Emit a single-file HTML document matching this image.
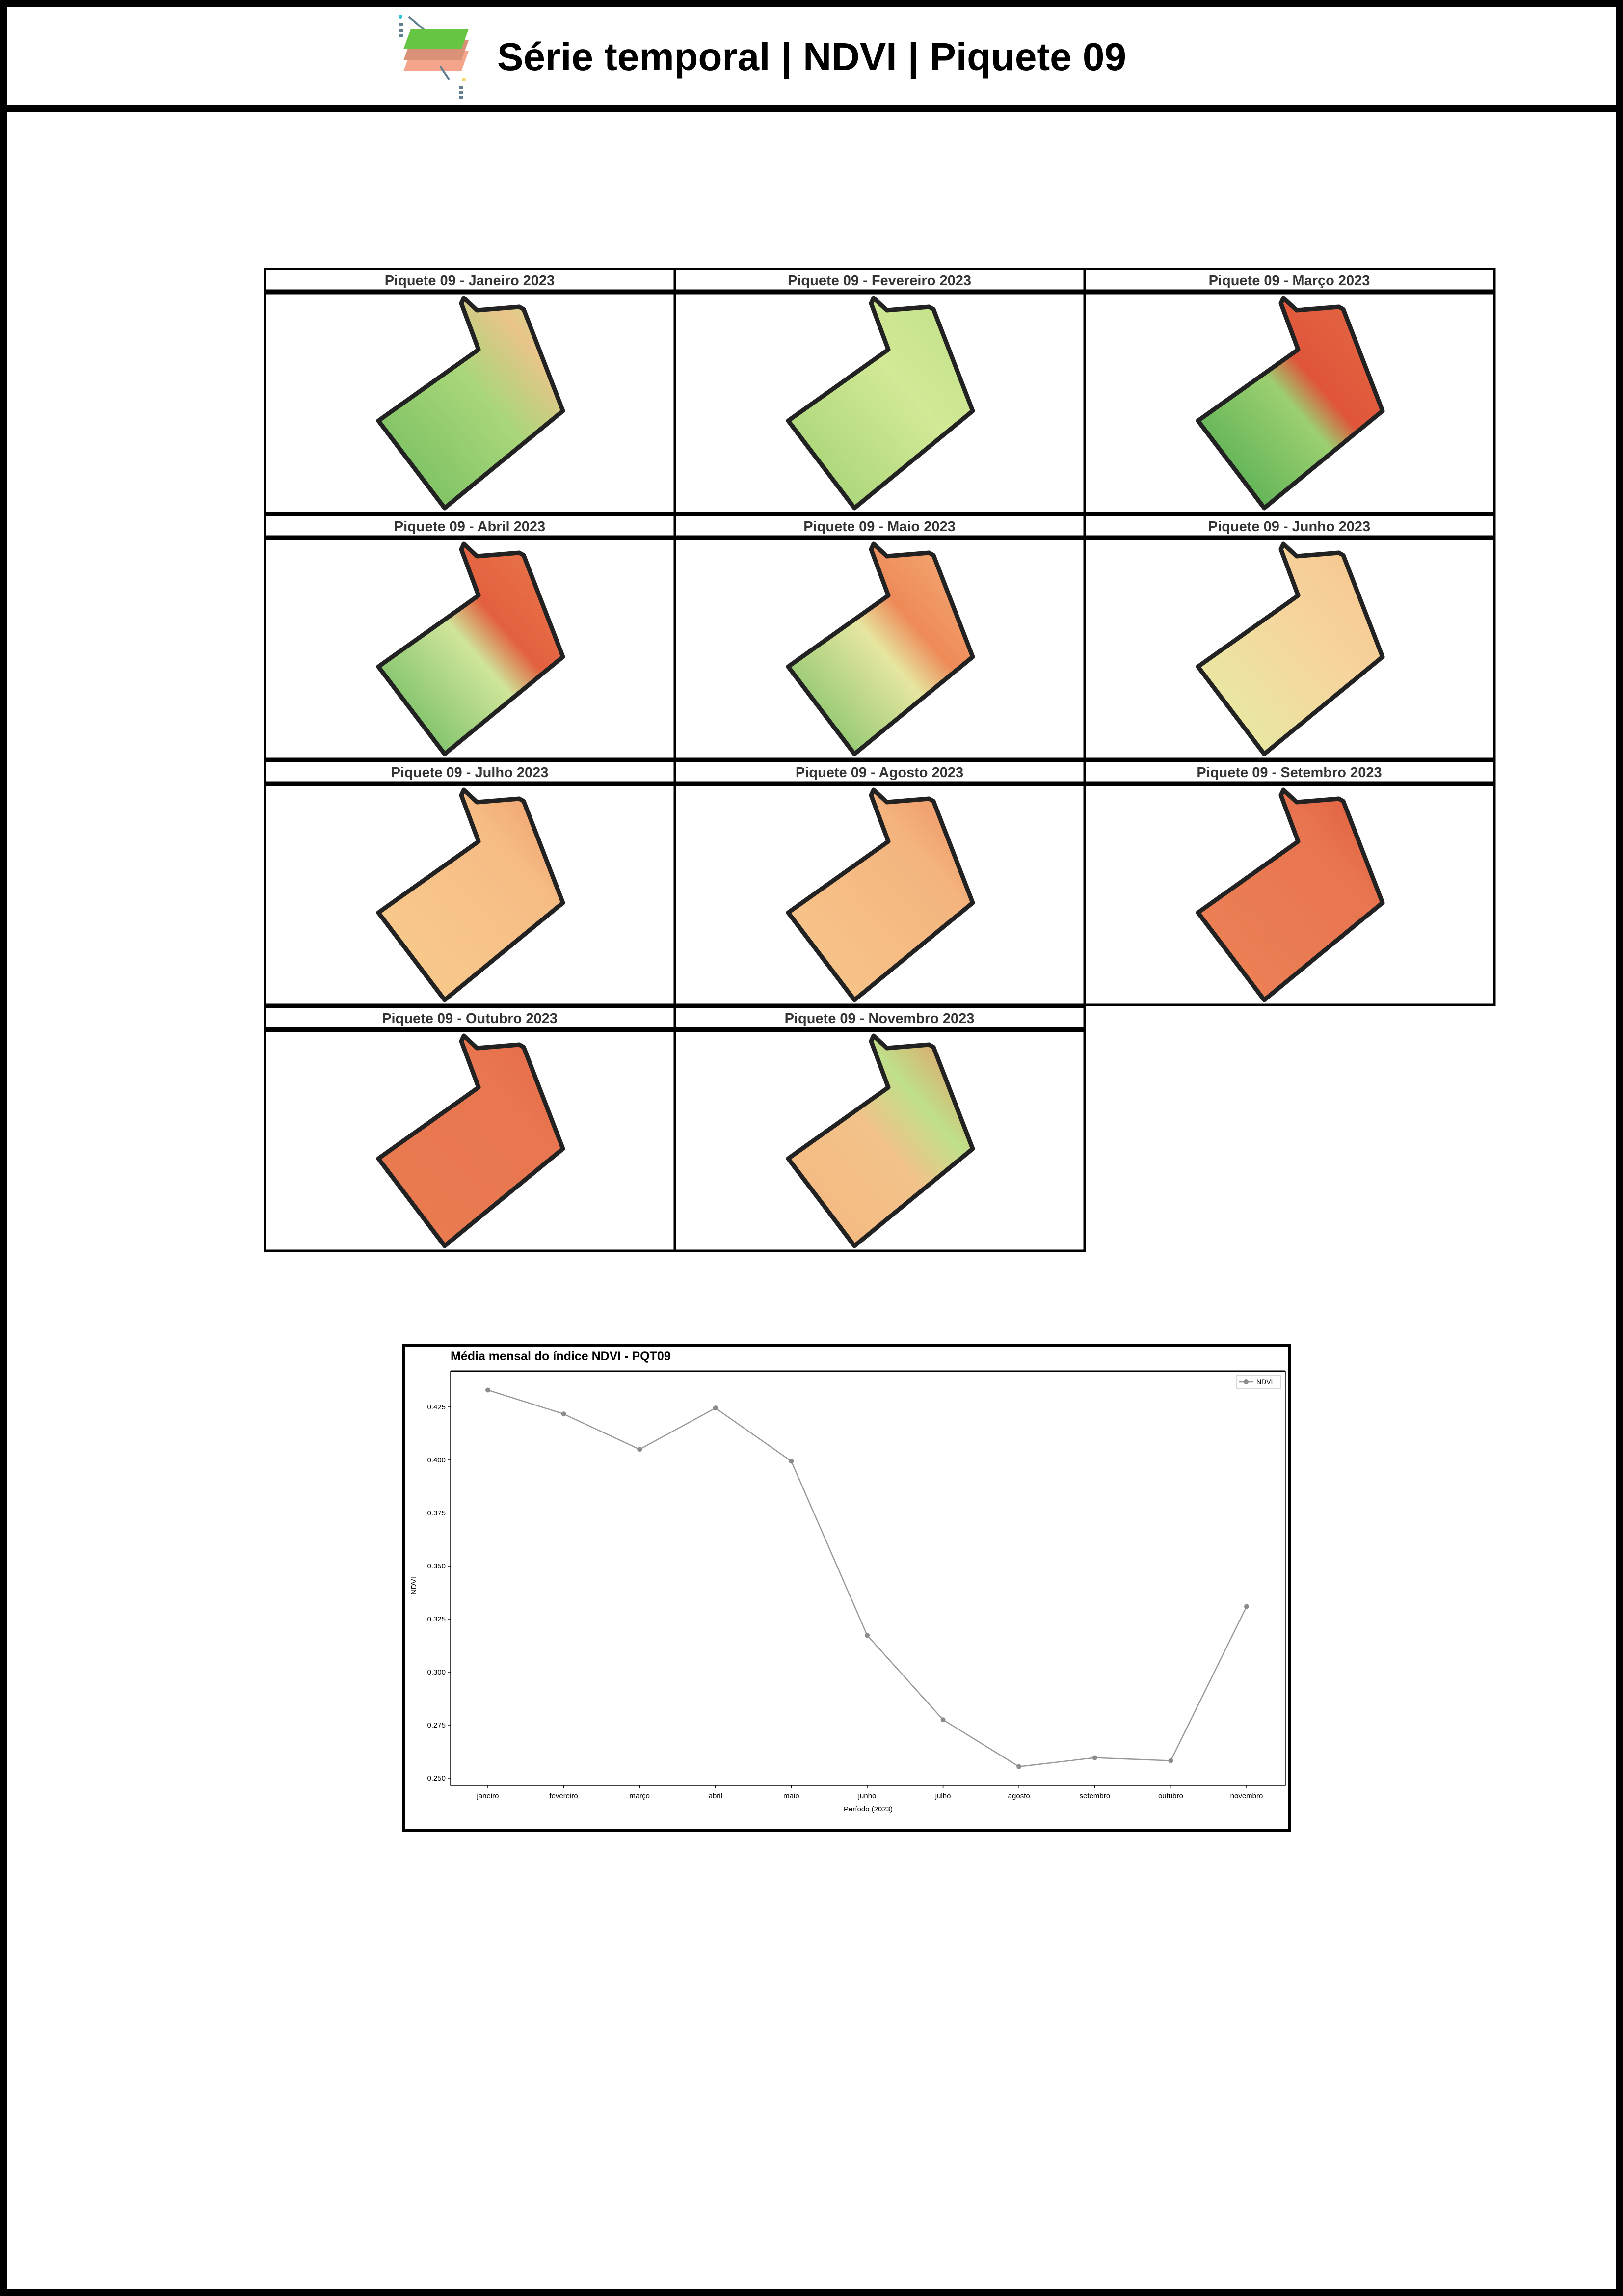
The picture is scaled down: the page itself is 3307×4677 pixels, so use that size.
<!DOCTYPE html>
<html><head><meta charset="utf-8"><style>
html,body{margin:0;padding:0;background:#fff}
svg{display:block}
text{font-family:"Liberation Sans",sans-serif}
</style></head><body>
<svg id="page" width="3307" height="4677" viewBox="0 0 3307 4677" xmlns="http://www.w3.org/2000/svg">
<defs>
<linearGradient id="g0" x1="0" y1="1" x2="1" y2="0"><stop offset="0" stop-color="#6dbb5c"/><stop offset="0.55" stop-color="#a9d67a"/><stop offset="0.8" stop-color="#e9c48a"/><stop offset="1" stop-color="#c8e38e"/></linearGradient>
<linearGradient id="g1" x1="0" y1="1" x2="1" y2="0"><stop offset="0" stop-color="#9fd070"/><stop offset="0.6" stop-color="#d2e996"/><stop offset="1" stop-color="#c0df86"/></linearGradient>
<linearGradient id="g2" x1="0" y1="1" x2="1" y2="0"><stop offset="0" stop-color="#45a84c"/><stop offset="0.5" stop-color="#9ccf70"/><stop offset="0.62" stop-color="#e0553a"/><stop offset="1" stop-color="#e46a44"/></linearGradient>
<linearGradient id="g3" x1="0" y1="1" x2="1" y2="0"><stop offset="0" stop-color="#5cb355"/><stop offset="0.5" stop-color="#cfe59a"/><stop offset="0.64" stop-color="#e3603e"/><stop offset="1" stop-color="#ea7a4e"/></linearGradient>
<linearGradient id="g4" x1="0" y1="1" x2="1" y2="0"><stop offset="0" stop-color="#6dbb5c"/><stop offset="0.5" stop-color="#e6e6a0"/><stop offset="0.65" stop-color="#ee8a58"/><stop offset="1" stop-color="#f4b07a"/></linearGradient>
<linearGradient id="g5" x1="0" y1="1" x2="1" y2="0"><stop offset="0" stop-color="#e3efa4"/><stop offset="0.6" stop-color="#f7d49c"/><stop offset="1" stop-color="#f4c48c"/></linearGradient>
<linearGradient id="g6" x1="0" y1="1" x2="1" y2="0"><stop offset="0" stop-color="#f9cd8e"/><stop offset="0.7" stop-color="#f6bc84"/><stop offset="1" stop-color="#ee9a68"/></linearGradient>
<linearGradient id="g7" x1="0" y1="1" x2="1" y2="0"><stop offset="0" stop-color="#f8c88c"/><stop offset="0.7" stop-color="#f4b47e"/><stop offset="1" stop-color="#eb8c60"/></linearGradient>
<linearGradient id="g8" x1="0" y1="1" x2="1" y2="0"><stop offset="0" stop-color="#ed8356"/><stop offset="0.7" stop-color="#e87550"/><stop offset="1" stop-color="#e05a3c"/></linearGradient>
<linearGradient id="g9" x1="0" y1="1" x2="1" y2="0"><stop offset="0" stop-color="#ea7c50"/><stop offset="0.7" stop-color="#e87650"/><stop offset="1" stop-color="#e46a46"/></linearGradient>
<linearGradient id="g10" x1="0" y1="1" x2="1" y2="0"><stop offset="0" stop-color="#f6b87e"/><stop offset="0.5" stop-color="#f2c28a"/><stop offset="0.7" stop-color="#bfe08a"/><stop offset="1" stop-color="#ec8a5c"/></linearGradient>
</defs>
<!-- outer frame -->
<rect x="7" y="7" width="3293" height="4663" fill="none" stroke="#000" stroke-width="15"/>
<rect x="0" y="213" width="3307" height="15" fill="#000"/>
<!-- logo -->
<g>
<line x1="833" y1="34" x2="875" y2="70" stroke="#5f7f8e" stroke-width="4"/>
<circle cx="816" cy="34" r="4" fill="#2bc6d8"/>
<rect x="814" y="47" width="8" height="6" fill="#5f7f8e"/><rect x="814" y="60" width="8" height="6" fill="#5f7f8e"/><rect x="814" y="70" width="8" height="6" fill="#5f7f8e"/>
<polygon points="822,145 940,145 955,104 837,104" fill="#f5a48c"/>
<polygon points="822,123 940,123 955,82 837,82" fill="#d99278"/>
<polygon points="822,100 940,100 955,59 837,59" fill="#66c644"/>
<line x1="897" y1="135" x2="915" y2="162" stroke="#5f7f8e" stroke-width="4"/>
<circle cx="945" cy="162" r="4" fill="#f3d86a"/>
<rect x="935" y="175" width="9" height="6" fill="#5f7f8e"/><rect x="935" y="186" width="9" height="6" fill="#5f7f8e"/><rect x="935" y="196" width="9" height="6" fill="#5f7f8e"/>
</g>
<text x="1013" y="143" font-size="80" font-weight="bold" fill="#000" textLength="1282" lengthAdjust="spacingAndGlyphs">Série temporal | NDVI | Piquete 09</text>
<g id="panels"></g>
<!-- chart -->
<rect x="823" y="2740" width="1805" height="988" fill="#fff" stroke="#000" stroke-width="6"/>
<g id="chart"></g>
</svg>
<script>
// ---- chart data ----
const months = ["janeiro","fevereiro","março","abril","maio","junho","julho","agosto","setembro","outubro","novembro"];
const ndvi = [0.433,0.4217,0.405,0.4245,0.3994,0.3173,0.2775,0.2554,0.2596,0.2582,0.3309];
const yTicks = [0.250,0.275,0.300,0.325,0.350,0.375,0.400,0.425];
const yTickLabels = ["0.250","0.275","0.300","0.325","0.350","0.375","0.400","0.425"];
// ---- panel data ----
const panelTitles = ["Janeiro 2023","Fevereiro 2023","Março 2023","Abril 2023","Maio 2023","Junho 2023","Julho 2023","Agosto 2023","Setembro 2023","Outubro 2023","Novembro 2023"];

const NS = "http://www.w3.org/2000/svg";
function mk(tag, attrs, parent){const e=document.createElementNS(NS,tag);for(const k in attrs)e.setAttribute(k,attrs[k]);parent.appendChild(e);return e;}

// panels
const pg = document.getElementById('panels');
const shape = [[405,10],[432,35],[518,28],[527,33],[607,240],[366,438],[231,260],[435,115],[400,21]];
panelTitles.forEach((t,i)=>{
  const col=i%3,row=Math.floor(i/3);
  const x=540+col*835,y=548+row*501;
  const g=mk('g',{},pg);
  
  
  const tb=mk('rect',{x:x,y:y,width:835,height:44,fill:'#fff',stroke:'#000','stroke-width':5},g);
  
  
  const tt=mk('text',{x:x+417,y:y+33,'font-size':29,'font-weight':'bold','text-anchor':'middle',fill:'#333'},g);
  tt.textContent='Piquete 09 -  '+t;
  
  
  const mb=mk('rect',{x:x,y:y+49,width:835,height:448,fill:'#fff',stroke:'#000','stroke-width':5},g);
  
  
  const pts=shape.map(p=>(x+p[0])+','+(y+49+p[1])).join(' ');
  const pl=mk('polygon',{points:pts,fill:'url(#g'+i+')',stroke:'#222','stroke-width':9,'stroke-linejoin':'round'},g);
  
  
});

// chart
const cg=document.getElementById('chart');
const L=918,R=2619,T=2793,B=3637;
const xS=i=>994+i*(2540-994)/(months.length-1);
const yS=v=>3622-(v-0.25)/0.025*108;
const ax=mk('rect',{x:L,y:T,width:R-L,height:B-T,fill:'none',stroke:'#000','stroke-width':1.5},cg);


mk('line',{x1:L,y1:T,x2:R,y2:T,stroke:'#000','stroke-width':3},cg);
const ct=mk('text',{x:918,y:2771,'font-size':25,'font-weight':'bold',fill:'#000'},cg);
ct.textContent='Média mensal do índice NDVI - PQT09';


yTicks.forEach((v,i)=>{
  const y=yS(v);
  mk('line',{x1:L-6,y1:y,x2:L,y2:y,stroke:'#000','stroke-width':1.5},cg);
  const tl=mk('text',{x:L-10,y:y+5,'font-size':15,'text-anchor':'end',fill:'#000'},cg);
  tl.textContent=yTickLabels[i];
  
  
});
months.forEach((m,i)=>{
  const x=xS(i);
  mk('line',{x1:x,y1:B,x2:x,y2:B+6,stroke:'#000','stroke-width':1.5},cg);
  const tl=mk('text',{x:x,y:B+26,'font-size':15,'text-anchor':'middle',fill:'#000'},cg);
  tl.textContent=m;
  
  
});
const xl=mk('text',{x:1769,y:3690,'font-size':15,'text-anchor':'middle',fill:'#000'},cg);
xl.textContent='Período (2023)';


const yl=mk('text',{x:0,y:0,'font-size':15,'text-anchor':'middle',fill:'#000',transform:'translate(848,3230) rotate(-90)'},cg);
yl.textContent='NDVI';


const line=mk('polyline',{points:ndvi.map((v,i)=>xS(i)+','+yS(v)).join(' '),fill:'none',stroke:'#999','stroke-width':2.5},cg);


ndvi.forEach((v,i)=>{
  const c=mk('circle',{cx:xS(i),cy:yS(v),r:5,fill:'#8c8c8c'},cg);
  
  
});
const lg=mk('g',{},cg);


mk('rect',{x:2519,y:2801,width:91,height:28,fill:'#fff',stroke:'#ccc','stroke-width':1.5,rx:3},lg);
mk('line',{x1:2525,y1:2815,x2:2553,y2:2815,stroke:'#999','stroke-width':2.5},lg);
mk('circle',{cx:2539,cy:2815,r:5,fill:'#8c8c8c'},lg);
const lt=mk('text',{x:2560,y:2820,'font-size':14,fill:'#000'},lg);
lt.textContent='NDVI';


</script>
</body></html>
